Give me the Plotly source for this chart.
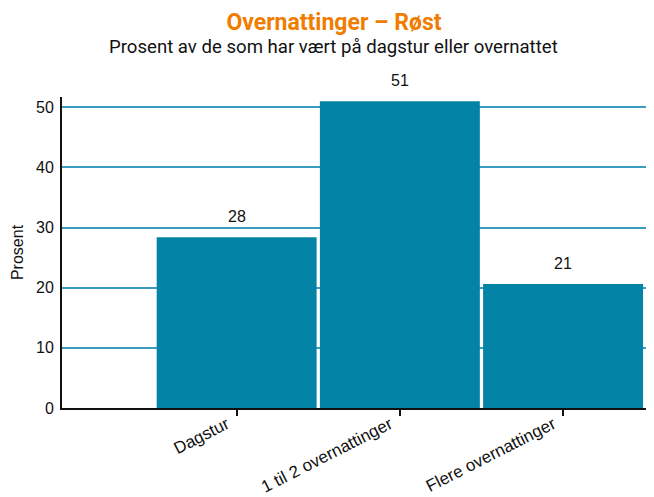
import plotly.graph_objects as go

categories = ["Dagstur", "1 til 2 overnattinger", "Flere overnattinger"]
values = [28.4, 51.0, 20.6]
labels = ["28", "51", "21"]

title_text = "Overnattinger – Røst"
subtitle_text = "Prosent av de som har vært på dagstur eller overnattet"
y_title = "Prosent"

bar_color = "#0383A6"
grid_color = "#3A9CBC"
title_color = "#F07D00"

W, H = 646, 489  # page body has an 8px margin

fig = go.Figure()
fig.add_trace(go.Bar(
    x=categories, y=values,
    marker=dict(color=bar_color, line=dict(width=0)),
    hoverinfo="x+y",
))

for c, v, t in zip(categories, values, labels):
    fig.add_annotation(x=c, y=v, text=t, showarrow=False, yanchor="bottom",
                       yshift=10, font=dict(family="Liberation Sans, Arial", size=16, color="#111"))

fig.add_annotation(xref="paper", yref="paper", x=0.459, y=1.0, yshift=50,
                   text=subtitle_text, showarrow=False, xanchor="center", yanchor="middle",
                   font=dict(family="Roboto", size=18.6, color="#111"))

fig.update_layout(
    width=W, height=H,
    margin=dict(l=54, r=0, t=89, b=89, autoexpand=False),
    paper_bgcolor="white", plot_bgcolor="white",
    bargap=0.02,
    showlegend=False,
    title=dict(text="<b>" + title_text + "</b>", x=326 / W, xref="container", xanchor="center",
               y=1 - 14 / H, yref="container", yanchor="middle",
               font=dict(family="Roboto", size=23, color=title_color)),
    xaxis=dict(range=[-1.07, 2.557], showline=True, linecolor="#111", linewidth=2,
               ticks="outside", ticklen=6, tickwidth=2, tickcolor="#111",
               tickangle=-27, showgrid=False, zeroline=False, automargin=False,
               ticklabelshift=-10, ticklabelstandoff=-8,
               tickfont=dict(family="Liberation Sans, Arial", size=17, color="#111")),
    yaxis=dict(range=[0, 51.7], showline=True, linecolor="#111", linewidth=2,
               ticks="", tickvals=[0, 10, 20, 30, 40, 50], showgrid=True,
               gridcolor=grid_color, gridwidth=1.5, zeroline=False, automargin=False,
               ticklabelstandoff=3,
               title=dict(text=y_title, standoff=8, font=dict(family="Liberation Sans, Arial", size=16, color="#111")),
               tickfont=dict(family="Liberation Sans, Arial", size=16, color="#111")),
)

fig.write_html("out.html")
